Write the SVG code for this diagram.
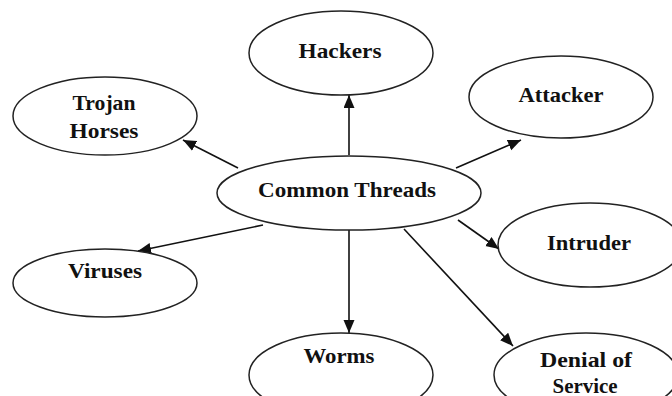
<svg xmlns="http://www.w3.org/2000/svg" width="672" height="396" viewBox="0 0 672 396">
<defs>
<style>
.n{fill:#fff;stroke:#222;stroke-width:1.5}
.t{font-weight:bold;font-size:21px;fill:#111;text-anchor:middle}
.e{stroke:#111;stroke-width:1.6;fill:none;marker-end:url(#ah)}
</style>
<marker id="ah" markerUnits="userSpaceOnUse" markerWidth="14" markerHeight="12" refX="13" refY="5.5" orient="auto">
<path d="M0,0 L13,5.5 L0,11 z" fill="#111"/>
</marker>
</defs>
<rect width="672" height="396" fill="#fff"/>
<g id="connectors">
<line class="e" x1="349" y1="155" x2="349" y2="95"/>
<line class="e" x1="456" y1="168" x2="521" y2="140"/>
<line class="e" x1="238" y1="168" x2="183" y2="140"/>
<line class="e" x1="263" y1="225" x2="138" y2="251"/>
<line class="e" x1="349" y1="229" x2="349" y2="333"/>
<line class="e" x1="458" y1="220" x2="499" y2="249"/>
<line class="e" x1="404" y1="229" x2="513" y2="346"/>
</g>
<g font-family="Liberation Serif, DejaVu Serif, serif">
<g id="hackers"><ellipse class="n" cx="341" cy="53" rx="92" ry="42"/><text class="t" x="340" y="58" textLength="83" lengthAdjust="spacingAndGlyphs">Hackers</text></g>
<g id="attacker"><ellipse class="n" cx="561" cy="97" rx="92" ry="41"/><text class="t" x="561" y="102" textLength="85" lengthAdjust="spacingAndGlyphs">Attacker</text></g>
<g id="trojan"><ellipse class="n" cx="105" cy="116" rx="92" ry="39"/><text class="t" x="104" y="110" textLength="63" lengthAdjust="spacingAndGlyphs">Trojan</text><text class="t" x="104" y="138" textLength="69" lengthAdjust="spacingAndGlyphs">Horses</text></g>
<g id="common"><ellipse class="n" cx="349" cy="193" rx="132" ry="37"/><text class="t" x="347" y="197" textLength="178" lengthAdjust="spacingAndGlyphs">Common Threads</text></g>
<g id="viruses"><ellipse class="n" cx="105" cy="283" rx="92" ry="34"/><text class="t" x="105" y="278" textLength="74" lengthAdjust="spacingAndGlyphs">Viruses</text></g>
<g id="intruder"><ellipse class="n" cx="590" cy="245" rx="92" ry="42"/><text class="t" x="589" y="250" textLength="84" lengthAdjust="spacingAndGlyphs">Intruder</text></g>
<g id="worms"><ellipse class="n" cx="341" cy="375" rx="92" ry="42"/><text class="t" x="339" y="363" textLength="71" lengthAdjust="spacingAndGlyphs">Worms</text></g>
<g id="denial"><ellipse class="n" cx="586" cy="375" rx="92" ry="42"/><text class="t" x="586" y="367" textLength="92" lengthAdjust="spacingAndGlyphs">Denial of</text><text class="t" x="585" y="393" textLength="65" lengthAdjust="spacingAndGlyphs">Service</text></g>
</g>
</svg>
